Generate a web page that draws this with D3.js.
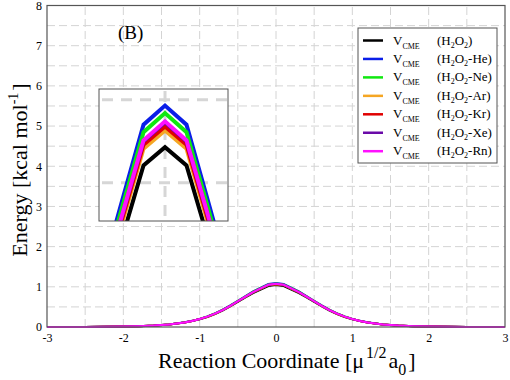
<!DOCTYPE html>
<html>
<head>
<meta charset="utf-8">
<script src="https://cdn.jsdelivr.net/npm/d3@7"></script>
<style>
  body { margin: 0; background: #fff; }
  text { font-family: "Liberation Serif", "Times New Roman", serif; fill: #000; }
</style>
</head>
<body>
<div id="chart"></div>
<script>
// reaction coordinate points (shared by all curves)
const coord = [-3, -2.5, -2, -1.8, -1.6, -1.4, -1.2, -1.1, -1, -0.9, -0.8, -0.7, -0.6, -0.5, -0.4, -0.3, -0.2, -0.1,
    0, 0.1, 0.2, 0.3, 0.4, 0.5, 0.6, 0.7, 0.8, 0.9, 1, 1.1, 1.2, 1.4, 1.6, 1.8, 2, 2.5, 3];

const vH2O2 = [0.001, 0.002, 0.010, 0.019, 0.034, 0.062, 0.111, 0.146, 0.192, 0.250, 0.322, 0.410, 0.511, 0.623, 0.735, 0.845, 0.933, 1.021,
    1.043, 1.021, 0.933, 0.845, 0.735, 0.623, 0.511, 0.410, 0.322, 0.250, 0.192, 0.146, 0.111, 0.062, 0.034, 0.019, 0.010, 0.002, 0.001];
const vHe = [0.001, 0.002, 0.011, 0.020, 0.036, 0.064, 0.116, 0.153, 0.201, 0.262, 0.338, 0.430, 0.536, 0.653, 0.771, 0.885, 0.978, 1.070,
    1.093, 1.070, 0.978, 0.885, 0.771, 0.653, 0.536, 0.430, 0.338, 0.262, 0.201, 0.153, 0.116, 0.064, 0.036, 0.020, 0.011, 0.002, 0.001];
const vNe = [0.001, 0.002, 0.011, 0.020, 0.036, 0.064, 0.115, 0.152, 0.199, 0.260, 0.335, 0.426, 0.531, 0.647, 0.764, 0.878, 0.970, 1.061,
    1.084, 1.061, 0.970, 0.878, 0.764, 0.647, 0.531, 0.426, 0.335, 0.260, 0.199, 0.152, 0.115, 0.064, 0.036, 0.020, 0.011, 0.002, 0.001];
const vAr = [0.001, 0.002, 0.011, 0.019, 0.035, 0.063, 0.113, 0.149, 0.196, 0.255, 0.328, 0.418, 0.521, 0.635, 0.749, 0.861, 0.951, 1.041,
    1.063, 1.041, 0.951, 0.861, 0.749, 0.635, 0.521, 0.418, 0.328, 0.255, 0.196, 0.149, 0.113, 0.063, 0.035, 0.019, 0.011, 0.002, 0.001];
const vKr = [0.001, 0.002, 0.011, 0.019, 0.035, 0.063, 0.113, 0.150, 0.197, 0.256, 0.330, 0.420, 0.523, 0.638, 0.753, 0.865, 0.956, 1.046,
    1.068, 1.046, 0.956, 0.865, 0.753, 0.638, 0.523, 0.420, 0.330, 0.256, 0.197, 0.150, 0.113, 0.063, 0.035, 0.019, 0.011, 0.002, 0.001];
const vXe = [0.001, 0.002, 0.011, 0.019, 0.035, 0.063, 0.114, 0.150, 0.197, 0.257, 0.331, 0.421, 0.525, 0.640, 0.756, 0.869, 0.960, 1.050,
    1.073, 1.050, 0.960, 0.869, 0.756, 0.640, 0.525, 0.421, 0.331, 0.257, 0.197, 0.150, 0.114, 0.063, 0.035, 0.019, 0.011, 0.002, 0.001];
const vRn = [0.001, 0.002, 0.011, 0.019, 0.035, 0.063, 0.114, 0.150, 0.198, 0.258, 0.332, 0.422, 0.526, 0.641, 0.757, 0.870, 0.961, 1.051,
    1.074, 1.051, 0.961, 0.870, 0.757, 0.641, 0.526, 0.422, 0.332, 0.258, 0.198, 0.150, 0.114, 0.063, 0.035, 0.019, 0.011, 0.002, 0.001];

const seriesNames = ["H2O2", "H2O2-He", "H2O2-Ne", "H2O2-Ar", "H2O2-Kr", "H2O2-Xe", "H2O2-Rn"];
const seriesValues = [vH2O2, vHe, vNe, vAr, vKr, vXe, vRn];
const seriesColors = ["#000000", "#0a1ee8", "#10e810", "#f5a623", "#e00000", "#6a0aa8", "#ff10ff"];

const xTicks = [-3, -2, -1, 0, 1, 2, 3];
const yTicks = [0, 1, 2, 3, 4, 5, 6, 7, 8];
const gridStep = 0.5;
const insetYTicks = [1.0, 1.1];
const insetXTicks = [0];

const width = 510,
    height = 380,
    margin = ({ top: 5.5, right: 5, bottom: 53, left: 47 });

const svg = d3.select("#chart")
    .append("svg")
    .attr("width", width)
    .attr("height", height);

let x = d3.scaleLinear()
    .domain([-3, 3])
    .range([margin.left, width - margin.right]);

let y = d3.scaleLinear()
    .domain([0, 8])
    .range([height - margin.bottom, margin.top]);

// dashed grid every 0.5
let gx = d3.range(-3 + gridStep, 3, gridStep);
let gy = d3.range(gridStep, 8, gridStep);

svg.append("g")
    .selectAll("line")
    .data(gx)
    .join("line")
    .attr("x1", d => x(d)).attr("x2", d => x(d))
    .attr("y1", y(0)).attr("y2", y(8))
    .attr("stroke", "#d4d4d4")
    .attr("stroke-dasharray", "8,4");

svg.append("g")
    .selectAll("line")
    .data(gy)
    .join("line")
    .attr("x1", x(-3)).attr("x2", x(3))
    .attr("y1", d => y(d)).attr("y2", d => y(d))
    .attr("stroke", "#d4d4d4")
    .attr("stroke-dasharray", "8,4");

// tick labels (plain hyphen for negatives, like the original)
svg.append("g")
    .attr("transform", `translate(0,${height - margin.bottom})`)
    .call(d3.axisBottom(x).tickValues(xTicks).tickSize(0).tickPadding(6).tickFormat(d => String(d)))
    .call(g => g.select(".domain").remove())
    .call(g => g.selectAll("text").attr("font-size", 12).style("font-family", "Liberation Serif"));

svg.append("g")
    .attr("transform", `translate(${margin.left},0)`)
    .call(d3.axisLeft(y).tickValues(yTicks).tickSize(0).tickPadding(5).tickFormat(d => String(d)))
    .call(g => g.select(".domain").remove())
    .call(g => g.selectAll("text").attr("font-size", 12).style("font-family", "Liberation Serif"));

let line = d3.line()
    .x(d => x(d[0]))
    .y(d => y(d[1]));

// main curves
for (let i = 0; i < seriesValues.length; i++) {
    let pts = coord.map((c, j) => [c, seriesValues[i][j]]);
    svg.append("path")
        .datum(pts)
        .attr("fill", "none")
        .attr("stroke", seriesColors[i])
        .attr("stroke-width", 2)
        .attr("d", line);
}

// frame
svg.append("rect")
    .attr("x", x(-3)).attr("y", y(8))
    .attr("width", x(3) - x(-3)).attr("height", y(0) - y(8))
    .attr("fill", "none")
    .attr("stroke", "#555")
    .attr("stroke-width", 1.2);

// panel label
svg.append("text")
    .attr("x", 118).attr("y", 39)
    .attr("font-size", 19)
    .text("(B)");

// axis titles
svg.append("text")
    .attr("x", 158)
    .attr("y", 368)
    .attr("font-size", 22)
    .call(t => {
        t.append("tspan").text("Reaction Coordinate [\u03bc");
        t.append("tspan").attr("dy", -10).attr("dx", 2).attr("font-size", 16).text("1/2");
        t.append("tspan").attr("dy", 10).attr("dx", 2).text("a");
        t.append("tspan").attr("dy", 7).attr("font-size", 16).text("0");
        t.append("tspan").attr("dy", -7).attr("dx", 2).text("]");
    });

svg.append("text")
    .attr("transform", "translate(27,170) rotate(-90)")
    .attr("text-anchor", "middle")
    .attr("font-size", 22)
    .call(t => {
        t.append("tspan").text("Energy [kcal mol");
        t.append("tspan").attr("dy", -9).attr("font-size", 14).text("-1");
        t.append("tspan").attr("dy", 9).attr("dx", 2).text("]");
    });

// inset --------------------------------------------------------------
const inset = ({ x0: 99, y0: 89, x1: 228, y1: 221 });

let xi = d3.scaleLinear()
    .domain([-0.307, 0.293])
    .range([inset.x0, inset.x1]);

let yi = d3.scaleLinear()
    .domain([0.954, 1.113])
    .range([inset.y1, inset.y0]);

svg.append("rect")
    .attr("x", inset.x0).attr("y", inset.y0)
    .attr("width", inset.x1 - inset.x0).attr("height", inset.y1 - inset.y0)
    .attr("fill", "#fff");

svg.append("clipPath")
    .attr("id", "inset-clip")
    .append("rect")
    .attr("x", inset.x0).attr("y", inset.y0)
    .attr("width", inset.x1 - inset.x0).attr("height", inset.y1 - inset.y0);

let ig = svg.append("g").attr("clip-path", "url(#inset-clip)");

ig.selectAll(".igy")
    .data(insetYTicks)
    .join("line")
    .attr("x1", inset.x0).attr("x2", inset.x1)
    .attr("y1", d => yi(d)).attr("y2", d => yi(d))
    .attr("stroke", "#d6d6d6")
    .attr("stroke-width", 3)
    .attr("stroke-dasharray", "11,8")
    .attr("stroke-dashoffset", -3);

ig.selectAll(".igx")
    .data(insetXTicks)
    .join("line")
    .attr("x1", d => xi(d)).attr("x2", d => xi(d))
    .attr("y1", inset.y0).attr("y2", inset.y1)
    .attr("stroke", "#d6d6d6")
    .attr("stroke-width", 3)
    .attr("stroke-dasharray", "11,8")
    .attr("stroke-dashoffset", -2);

let lineInset = d3.line()
    .x(d => xi(d[0]))
    .y(d => yi(d[1]));

for (let i = 0; i < seriesValues.length; i++) {
    let pts = coord.map((c, j) => [c, seriesValues[i][j]]);
    ig.append("path")
        .datum(pts)
        .attr("fill", "none")
        .attr("stroke", seriesColors[i])
        .attr("stroke-width", 4)
        .attr("stroke-linejoin", "miter")
        .attr("d", lineInset);
}

svg.append("rect")
    .attr("x", inset.x0).attr("y", inset.y0)
    .attr("width", inset.x1 - inset.x0).attr("height", inset.y1 - inset.y0)
    .attr("fill", "none")
    .attr("stroke", "#555")
    .attr("stroke-width", 1);

// legend --------------------------------------------------------------
const lg = svg.append("g").attr("transform", "translate(358,28)");

lg.append("rect")
    .attr("width", 139).attr("height", 135)
    .attr("fill", "#fff")
    .attr("stroke", "#555")
    .attr("stroke-width", 1);

seriesNames.forEach((name, i) => {
    let row = lg.append("g").attr("transform", `translate(0,${12.5 + i * 18.45})`);
    row.append("line")
        .attr("x1", 5).attr("x2", 25)
        .attr("stroke", seriesColors[i])
        .attr("stroke-width", 2.5);
    let t = row.append("text").attr("x", 35).attr("y", 4).attr("font-size", 13);
    t.append("tspan").text("V");
    t.append("tspan").attr("dy", 4).attr("font-size", 8).text("CME");
    let p = row.append("text").attr("x", 79).attr("y", 4).attr("font-size", 13);
    let parts = name.split("-");
    p.append("tspan").text("(H");
    p.append("tspan").attr("dy", 3).attr("font-size", 8).text("2");
    p.append("tspan").attr("dy", -3).text("O");
    p.append("tspan").attr("dy", 3).attr("font-size", 8).text("2");
    p.append("tspan").attr("dy", -3).text((parts[1] ? "-" + parts[1] : "") + ")");
});
</script>
</body>
</html>
